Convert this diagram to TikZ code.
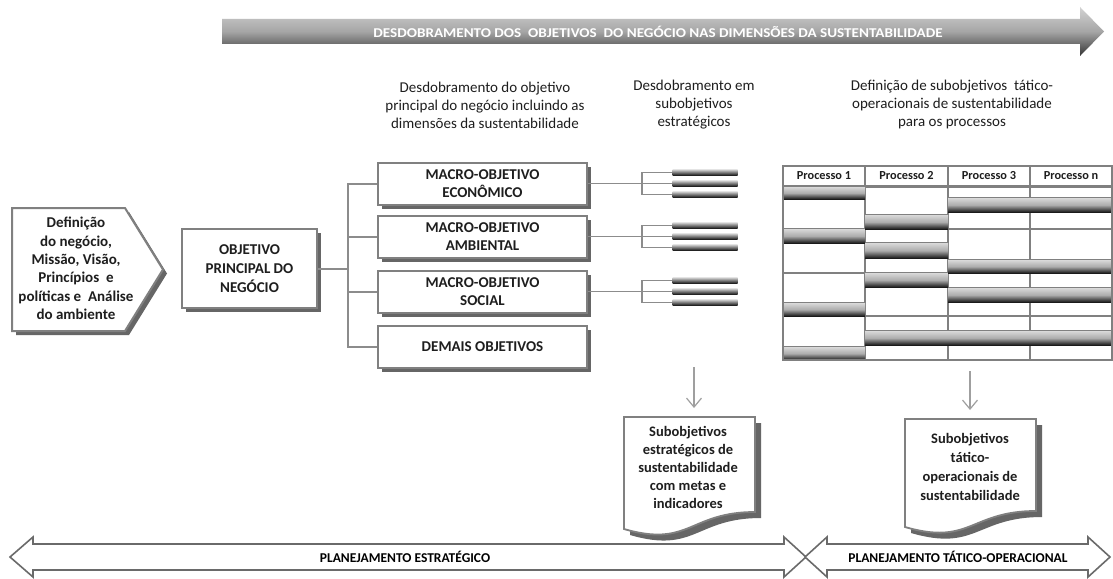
\documentclass[tikz,border=0pt]{standalone}
\usepackage{fontspec}
\setmainfont{Carlito}
\usetikzlibrary{arrows.meta,calc,shadows}

\definecolor{edgegray}{HTML}{808080}
\definecolor{linkgray}{HTML}{8C8C8C}
\definecolor{shadegray}{HTML}{666666}
\definecolor{textdark}{HTML}{1E1E1E}
\definecolor{rimgray}{HTML}{6A6A6A}

\tikzset{
  boxtext/.style={font=\fontsize{15}{18.7}\selectfont\bfseries, text=textdark, align=center},
  framebox/.style={draw=edgegray, line width=2pt, fill=white,
    drop shadow={shadow xshift=4pt, shadow yshift=-4pt, fill=shadegray, opacity=1}},
  macrobox/.style={framebox, boxtext, minimum width=209pt, minimum height=42pt, inner sep=0pt},
  link/.style={draw=linkgray, line width=2pt},
  twig/.style={draw=linkgray, line width=1.6pt},
  stub/.style={inner sep=0pt, minimum width=65pt, minimum height=5.5pt,
    top color=gray!40, bottom color=black!90},
  heading/.style={font=\fontsize{15}{18}\selectfont, text=textdark, align=center},
  cell/.style={draw=edgegray, line width=1.8pt, fill=white},
  bar/.style={top color=gray!30, bottom color=black!90, middle color=gray!65},
  headcell/.style={cell, minimum height=20pt, inner sep=0pt,
    font=\fontsize{12.3}{13}\selectfont\bfseries, text=textdark},
  docshape/.style={draw=edgegray, line width=1.8pt, fill=white,
    drop shadow={shadow xshift=6pt, shadow yshift=-6pt, fill=shadegray, opacity=1}},
  downarrow/.style={draw=gray!75, line width=1.2pt, -{Straight Barb[length=9pt,width=15pt]}},
  span/.style={draw=rimgray, line width=1.6pt, fill=white},
  spantext/.style={font=\fontsize{13.5}{15}\selectfont\bfseries, text=black},
}

\begin{document}
\begin{tikzpicture}[x=1pt, y=-1pt]
\useasboundingbox (0,0) rectangle (1113,578);
\fill[white] (0,0) rectangle (1113,578);

% ---- top arrow: unfolding of business objectives
\shade[top color=gray!35, bottom color=black!80, middle color=gray!70]
  (222,19) -- (1080,19) -- (1080,7) -- (1104,31.5) -- (1080,56) -- (1080,44) -- (222,44) -- cycle;
\node[font=\fontsize{13.5}{15}\selectfont\bfseries, text=white, xscale=1.12] (topline) at (658,31.5)
  {DESDOBRAMENTO DOS\ \ OBJETIVOS\ \ DO NEGÓCIO NAS DIMENSÕES DA SUSTENTABILIDADE};

% ---- column headings
\node[heading] (hA) at (485,105) {Desdobramento do objetivo\\principal do negócio incluindo as\\dimensões da sustentabilidade};
\node[heading] (hB) at (694,105) {Desdobramento em\\subobjetivos\\estratégicos};
\node[heading] (hC) at (952,105) {Definição de subobjetivos\ \ tático-\\operacionais de sustentabilidade\\para os processos};

% ---- business definition (pentagon)
\draw[framebox] (12,208) -- (125,208) -- (163,269.5) -- (125,331) -- (12,331) -- cycle;
\node[boxtext, font=\fontsize{15}{18.3}\selectfont\bfseries] (def) at (76,268.5)
  {Definição\\do negócio,\\Missão, Visão,\\Princípios\ \ e\\políticas e\ \ Análise\\do ambiente};

% ---- main objective
\node[framebox, boxtext, minimum width=135pt, minimum height=79pt, inner sep=0pt] (main) at (249.5,268.5)
  {OBJETIVO\\PRINCIPAL DO\\NEGÓCIO};

% ---- macro objectives
\node[macrobox] (eco) at (482.5,183.5) {MACRO-OBJETIVO\\ECONÔMICO};
\node[macrobox] (amb) at (482.5,236.5) {MACRO-OBJETIVO\\AMBIENTAL};
\node[macrobox] (soc) at (482.5,291.5) {MACRO-OBJETIVO\\SOCIAL};
\node[macrobox] (dem) at (482.5,347) {DEMAIS OBJETIVOS};

\coordinate (trunk) at (348,268.5);
\draw[link] (main.east) -- (trunk);
\draw[link] (eco.west) -- (eco.west -| trunk) -- (dem.west -| trunk) -- (dem.west);
\draw[link] (amb.west) -- (amb.west -| trunk);
\draw[link] (soc.west) -- (soc.west -| trunk);

% ---- strategic sub-objectives (three stubs per macro objective)
\foreach \b/\y in {eco/183.5, amb/236.5, soc/291.5}{
  \coordinate (\b-fork) at (642,\y);
  \node[stub] (\b-s1) at (705,{\y-11}) {};
  \node[stub] (\b-s2) at (705,\y) {};
  \node[stub] (\b-s3) at (705,{\y+11}) {};
  \draw[twig] (\b.east) -- (\b-fork);
  \draw[twig] (\b-s1.west) -| (\b-fork) |- (\b-s3.west);
  \draw[twig] (\b-fork) -- (\b-s2.west);
}

% ---- process table
\fill[white] (783,166) rectangle (1112,360);
\node[headcell, minimum width=82pt] (p1) at (824,176) {Processo 1};
\node[headcell, minimum width=83pt] (p2) at (906.5,176) {Processo 2};
\node[headcell, minimum width=82pt] (p3) at (989,176) {Processo 3};
\node[headcell, minimum width=82pt] (pn) at (1071,176) {Processo n};

% white cells of each column
\foreach \t/\u in {199/229, 243/273, 273/303, 316/347}
  \draw[cell] (783,\t) rectangle (865,\u);
\foreach \t/\u in {187/215, 229/243, 258/273, 287/316, 316/331, 345/360}
  \draw[cell] (865,\t) rectangle (948,\u);
\foreach \xa/\xb in {948/1030, 1030/1112}
  \foreach \t/\u in {187/198, 212/229, 229/260, 273/288, 302/316, 316/331, 345/360}
    \draw[cell] (\xa,\t) rectangle (\xb,\u);

% shaded sub-objective bars
\foreach \t/\u in {187/199, 229/243, 303/316, 347/360}
  \shade[bar] (783,\t) rectangle (865,\u);
\foreach \t/\u in {215/229, 243/258, 273/287, 331/345}
  \shade[bar] (865,\t) rectangle (948,\u);
\foreach \xa/\xb in {948/1030, 1030/1112}
  \foreach \t/\u in {198/212, 260/273, 288/302, 331/345}
    \shade[bar] (\xa,\t) rectangle (\xb,\u);

\draw[edgegray, line width=2pt] (783,166) rectangle (1112,360);

% ---- result documents
\draw[docshape] (624,417) -- (755,417) -- (755,512)
  .. controls (689.5,512) and (689.5,548) .. (624,529) -- cycle;
\node[boxtext, font=\fontsize{14.5}{18}\selectfont\bfseries] (doc1) at (688,467)
  {Subobjetivos\\estratégicos de\\sustentabilidade\\com metas e\\indicadores};

\draw[docshape] (905,419) -- (1036,419) -- (1036,511)
  .. controls (970.5,511) and (970.5,546) .. (905,527) -- cycle;
\node[boxtext, font=\fontsize{14.5}{19}\selectfont\bfseries] (doc2) at (970,466.5)
  {Subobjetivos\\tático-\\operacionais de\\sustentabilidade};

\coordinate (a1) at (694,367);
\coordinate (d1top) at (694,417);
\coordinate (a2) at (970,371);
\coordinate (d2top) at (970,419);
\draw[downarrow, shorten >=9pt] (a1) -- (d1top);
\draw[downarrow, shorten >=9pt] (a2) -- (d2top);

% ---- planning horizons (double arrows)
\draw[span] (10,557) -- (33,537) -- (33,544) -- (784,544) -- (784,537) -- (806,557)
  -- (784,577) -- (784,570) -- (33,570) -- (33,577) -- cycle;
\node[spantext] (strat) at (405,557) {PLANEJAMENTO ESTRATÉGICO};

\draw[span] (805,557) -- (827,537) -- (827,544) -- (1088,544) -- (1088,537) -- (1110,557)
  -- (1088,577) -- (1088,570) -- (827,570) -- (827,577) -- cycle;
\node[spantext] (tact) at (958,557) {PLANEJAMENTO TÁTICO-OPERACIONAL};
\end{tikzpicture}
\end{document}
